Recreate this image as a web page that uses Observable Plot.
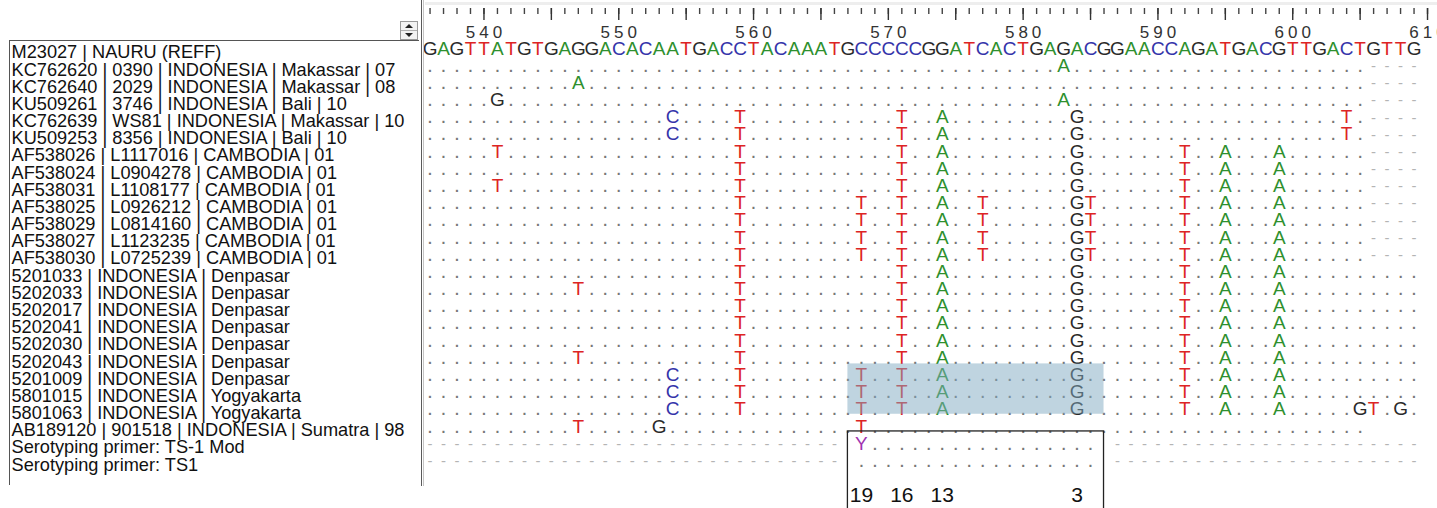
<!DOCTYPE html>
<html>
<head>
<meta charset="utf-8">
<script src="https://cdn.jsdelivr.net/npm/d3@7"></script>
<script src="https://cdn.jsdelivr.net/npm/@observablehq/plot@0.6"></script>
<style>
html,body{margin:0;padding:0;background:#fff;overflow:hidden;}
#wrap{position:relative;width:1437px;height:508px;font-family:"Liberation Sans",Arial,sans-serif;}
#ruler,#main{position:absolute;left:0;}
#ruler{top:0;}
#main{top:26px;}
#ruler svg,#main svg{display:block;}
#ruler text{letter-spacing:4px;}
.chrome{position:absolute;pointer-events:none;box-sizing:border-box;}
#topline{left:425px;top:2px;width:1012px;height:3px;background:#eeeeee;}
#splitter{left:421px;top:0;width:3px;height:486px;border-left:1px solid #5a5a5a;border-right:1px solid #c4c4c4;}
#listbox{left:9px;top:40px;width:410px;height:445px;border-top:1px solid #555;border-left:1px solid #555;}
#spin{left:400px;top:21px;width:18px;height:19px;border:1px solid #9a9a9a;background:#f3f3f3;}
#spin .mid{position:absolute;left:0;top:8px;width:16px;height:0;border-top:1px solid #b0b0b0;}
#spin .up{position:absolute;left:4px;top:2px;width:0;height:0;border-left:4px solid transparent;border-right:4px solid transparent;border-bottom:4px solid #222;}
#spin .down{position:absolute;left:4px;top:11px;width:0;height:0;border-left:4px solid transparent;border-right:4px solid transparent;border-top:4px solid #222;}
</style>
</head>
<body>
<div id="wrap">
  <div id="ruler"></div>
  <div id="main"></div>
  <div class="chrome" id="topline"></div>
  <div class="chrome" id="splitter"></div>
  <div class="chrome" id="listbox"></div>
  <div class="chrome" id="spin"><div class="up"></div><div class="mid"></div><div class="down"></div></div>
</div>
<script>
// ---------------- data ----------------
const startPos = 536;
const refSeq = "GAGTTATGTGAGGACACAATGACCTACAAATGCCCCCGGATCACTGAGACGGAACCAGATGACGTTGACTGTTG";

const rowLabels = [
  "M23027 | NAURU (REFF)",
  "KC762620 | 0390 | INDONESIA | Makassar | 07",
  "KC762640 | 2029 | INDONESIA | Makassar | 08",
  "KU509261 | 3746 | INDONESIA | Bali | 10",
  "KC762639 | WS81 | INDONESIA | Makassar | 10",
  "KU509253 | 8356 | INDONESIA | Bali | 10",
  "AF538026 | L1117016 | CAMBODIA | 01",
  "AF538024 | L0904278 | CAMBODIA | 01",
  "AF538031 | L1108177 | CAMBODIA | 01",
  "AF538025 | L0926212 | CAMBODIA | 01",
  "AF538029 | L0814160 | CAMBODIA | 01",
  "AF538027 | L1123235 | CAMBODIA | 01",
  "AF538030 | L0725239 | CAMBODIA | 01",
  "5201033 | INDONESIA | Denpasar",
  "5202033 | INDONESIA | Denpasar",
  "5202017 | INDONESIA | Denpasar",
  "5202041 | INDONESIA | Denpasar",
  "5202030 | INDONESIA | Denpasar",
  "5202043 | INDONESIA | Denpasar",
  "5201009 | INDONESIA | Denpasar",
  "5801015 | INDONESIA | Yogyakarta",
  "5801063 | INDONESIA | Yogyakarta",
  "AB189120 | 901518 | INDONESIA | Sumatra | 98",
  "Serotyping primer: TS-1 Mod",
  "Serotyping primer: TS1"
];

// kind of each row: how far the aligned sequence reaches
const rowKinds = ["ref",
  "short","short","short","short","short","short","short","short","short","short","short","short",
  "full","full","full","full","full","full","full","full","full",
  "partial","primer","primer"];

// differences from the reference: position + base
const rowVariants = [
  "",
  "583A",
  "547A",
  "541G 583A",
  "554C 559T 571T 574A 584G 604T",
  "554C 559T 571T 574A 584G 604T",
  "541T 559T 571T 574A 584G 592T 595A 599A",
  "559T 571T 574A 584G 592T 595A 599A",
  "541T 559T 571T 574A 584G 592T 595A 599A",
  "559T 568T 571T 574A 577T 584G 585T 592T 595A 599A",
  "559T 568T 571T 574A 577T 584G 585T 592T 595A 599A",
  "559T 568T 571T 574A 577T 584G 585T 592T 595A 599A",
  "559T 568T 571T 574A 577T 584G 585T 592T 595A 599A",
  "559T 571T 574A 584G 592T 595A 599A",
  "547T 559T 571T 574A 584G 592T 595A 599A",
  "559T 571T 574A 584G 592T 595A 599A",
  "559T 571T 574A 584G 592T 595A 599A",
  "559T 571T 574A 584G 592T 595A 599A",
  "547T 559T 571T 574A 584G 592T 595A 599A",
  "554C 559T 568T 571T 574A 584G 592T 595A 599A",
  "554C 559T 568T 571T 574A 584G 592T 595A 599A",
  "554C 559T 568T 571T 574A 584G 592T 595A 599A 605G 606T 608G",
  "547T 553G 568T",
  "568Y",
  ""
];

const alignedEnd = {short: 605, full: 609, partial: 605};
const primerSpan = [567, 586];       // boxed primer region
const primerDots = [568, 585];
const highlightRows = [19, 21];
const primerNumbers = [19, 16, 13, 3];
const primerNumberPos = [568, 571, 574, 584];
const primerNumberRow = 26;

const minorTicks = d3.range(536, 611);
const majorTicks = d3.range(540, 611, 5);
const labelTicks = [540, 550, 560, 570, 580, 590, 600, 610];

const bases = ["A", "C", "G", "T", "Y"];
const baseColors = ["#2e902e", "#3434aa", "#2a2a2a", "#dd2424", "#a033b0"];

// ---------------- build cells ----------------
const cells = [], dots = [], dashes = [];
rowLabels.forEach((_, r) => {
  const kind = rowKinds[r];
  const vmap = new Map(rowVariants[r].split(" ").filter(Boolean).map(t => [+t.slice(0, -1), t.slice(-1)]));
  for (let i = 0; i < refSeq.length; i++) {
    const pos = startPos + i;
    if (kind === "ref") { cells.push({row: r, pos, base: refSeq[i]}); continue; }
    if (vmap.has(pos)) { cells.push({row: r, pos, base: vmap.get(pos)}); continue; }
    if (kind === "primer") {
      if (pos >= primerDots[0] && pos <= primerDots[1]) dots.push({row: r, pos});
      else if (pos < primerSpan[0] || pos > primerSpan[1]) dashes.push({row: r, pos});
    } else if (pos <= alignedEnd[kind]) {
      dots.push({row: r, pos});
    } else if (kind === "short") {
      dashes.push({row: r, pos});
    }
  }
});

const xDomain = [535.44, 610.74];
const font = "'Liberation Sans', Arial, sans-serif";

// ---------------- ruler ----------------
const ruler = Plot.plot({
  width: 1437, height: 46,
  marginLeft: 422, marginRight: 0, marginTop: 0, marginBottom: 38,
  x: {domain: xDomain, axis: null},
  style: {fontFamily: font, background: "transparent"},
  marks: [
    Plot.axisX(minorTicks, {anchor: "bottom", tickSize: 6, tickFormat: () => "", stroke: "#444", strokeWidth: 1.4, label: null}),
    Plot.axisX(majorTicks, {anchor: "bottom", tickSize: 12, tickFormat: () => "", stroke: "#333", strokeWidth: 1.4, label: null}),
    Plot.axisX(labelTicks, {anchor: "bottom", tickSize: 0, tickPadding: 17, fontSize: 17, fill: "#333", dx: 2, label: null, tickFormat: d => String(d)})
  ]
});
document.getElementById("ruler").appendChild(ruler);

// ---------------- alignment ----------------
const main = Plot.plot({
  width: 1437, height: 482,
  marginLeft: 422, marginRight: 0, marginTop: 0, marginBottom: 0,
  x: {domain: xDomain, axis: null},
  y: {domain: [0, 24], range: [22, 434.3], axis: null},
  color: {type: "ordinal", domain: bases, range: baseColors},
  style: {fontFamily: font, background: "transparent"},
  marks: [
    Plot.axisY(d3.range(rowLabels.length), {
      anchor: "left", tickSize: 0, tickFormat: i => rowLabels[i],
      textAnchor: "start", dx: -402, dy: 4, fontSize: 18.2, fill: "#111", label: null
    }),
    Plot.text(dots, {x: "pos", y: "row", text: () => ".", fill: "#777", fontSize: 14, fontWeight: "bold", dy: 1.6}),
    Plot.text(dashes, {x: "pos", y: "row", text: () => "-", fill: "#b4b4b4", fontSize: 15, dy: 0.5}),
    Plot.text(cells, {x: "pos", y: "row", text: "base", fill: "base", fontSize: 19}),
    Plot.rect([{x1: primerSpan[0], x2: primerSpan[1], y1: highlightRows[0], y2: highlightRows[1]}],
      {x1: "x1", x2: "x2", y1: "y1", y2: "y2", insetTop: -11, insetBottom: -5, fill: "#7fa9c2", fillOpacity: 0.5}),
    Plot.rect([{x1: primerSpan[0], x2: primerSpan[1], y1: 22, y2: 27.5}],
      {x1: "x1", x2: "x2", y1: "y1", y2: "y2", insetTop: 5, fill: "none", stroke: "#222", strokeWidth: 1.3}),
    Plot.text(primerNumbers.map((n, i) => ({n, pos: primerNumberPos[i], row: primerNumberRow})),
      {x: "pos", y: "row", text: d => String(d.n), fontSize: 21, fill: "#111"})
  ]
});
document.getElementById("main").appendChild(main);
</script>
</body>
</html>
